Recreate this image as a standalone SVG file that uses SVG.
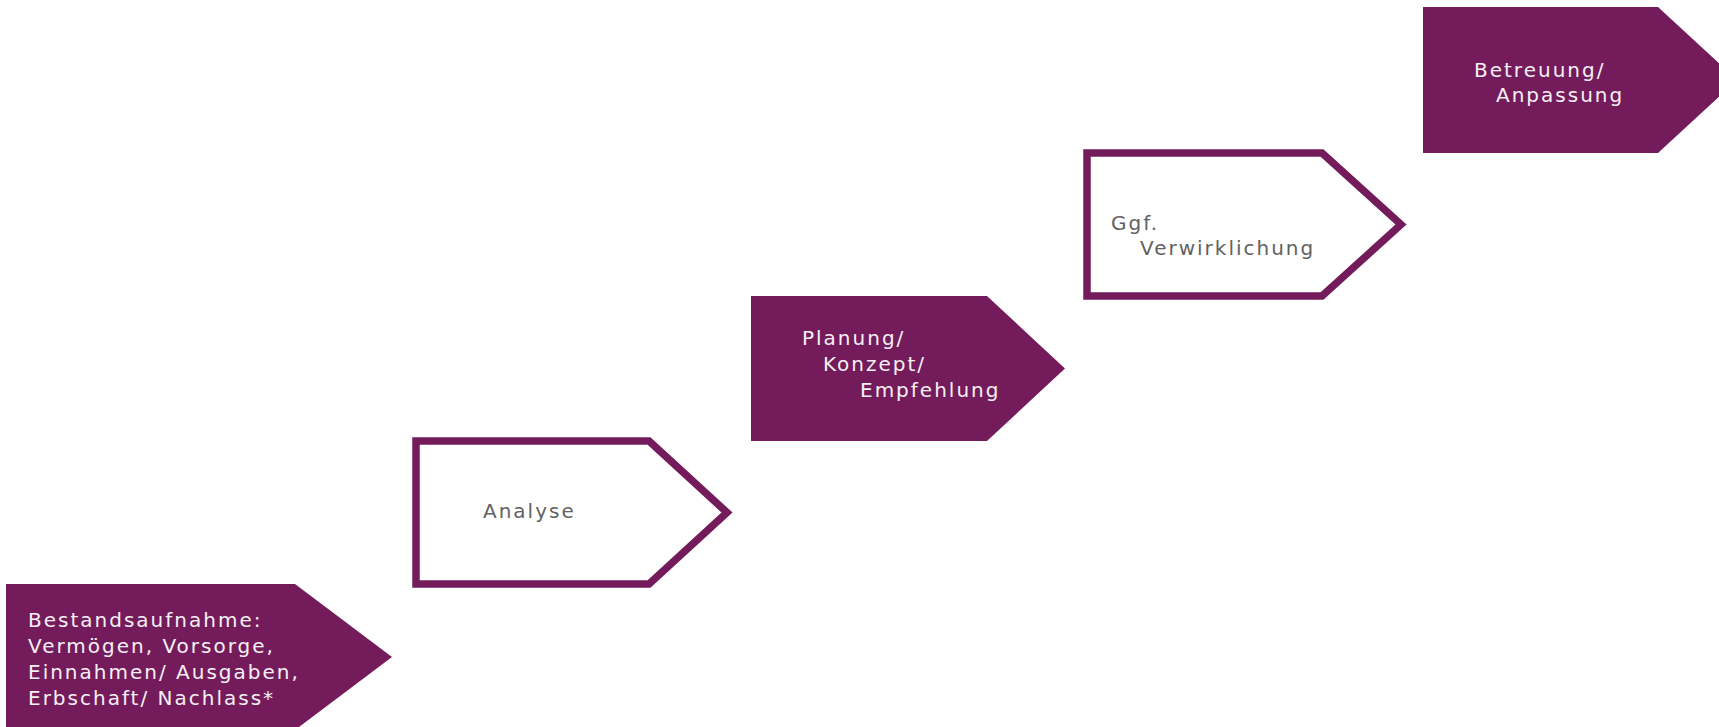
<svg xmlns="http://www.w3.org/2000/svg" width="1719" height="727" viewBox="0 0 1719 727">
<style>
.fill{fill:#741C5B;stroke:none}
.out{fill:#fff;stroke:#741C5B;stroke-width:7.5}
text{font-family:"DejaVu Sans",Verdana,sans-serif;font-size:20px;letter-spacing:2px}
.lt{fill:#F4F0F3}
.dk{fill:#626262}
</style>
<g id="node1">
<polygon class="fill" points="6,584 295,584 392,657 295,730 6,730"/>
<text class="lt"><tspan x="28" y="627">Bestandsaufnahme:</tspan><tspan x="28" y="653">Vermögen, Vorsorge,</tspan><tspan x="28" y="679">Einnahmen/ Ausgaben,</tspan><tspan x="28" y="705">Erbschaft/ Nachlass*</tspan></text>
</g>
<g id="node2">
<polygon class="out" points="416,441 649,441 727,512.5 649,584 416,584"/>
<text class="dk" x="483" y="518">Analyse</text>
</g>
<g id="node3">
<polygon class="fill" points="751,296 987,296 1065,368.5 987,441 751,441"/>
<text class="lt"><tspan x="802" y="345">Planung/</tspan><tspan x="823" y="371">Konzept/</tspan><tspan x="860" y="397">Empfehlung</tspan></text>
</g>
<g id="node4">
<polygon class="out" points="1087,153 1322,153 1401,224.5 1322,296 1087,296"/>
<text class="dk"><tspan x="1111" y="230">Ggf.</tspan><tspan x="1140" y="255">Verwirklichung</tspan></text>
</g>
<g id="node5">
<polygon class="fill" points="1423,7 1658,7 1737,80 1658,153 1423,153"/>
<text class="lt"><tspan x="1474" y="77">Betreuung/</tspan><tspan x="1496" y="102">Anpassung</tspan></text>
</g>
<g id="connectors"></g>
</svg>
